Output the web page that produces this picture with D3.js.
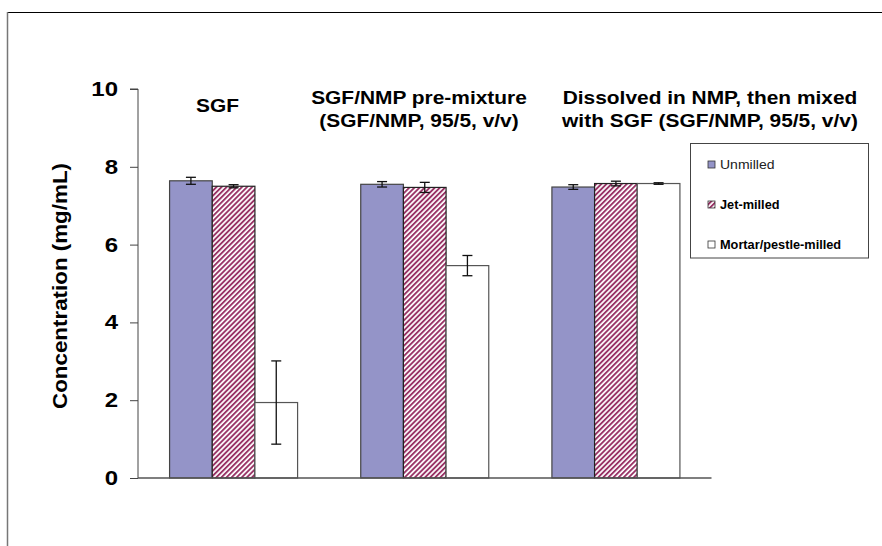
<!DOCTYPE html>
<html>
<head>
<meta charset="utf-8">
<script src="https://cdn.jsdelivr.net/npm/d3@7"></script>
<style>
  body { margin: 0; background: #fff; }
  text { font-family: "Liberation Sans", Arial, sans-serif; }
</style>
</head>
<body>
<svg id="chart" width="882" height="546"></svg>
<script>
// data
let groups = ["SGF", "SGF/NMP pre-mixture", "Dissolved in NMP"];
let groupTitles = [["SGF"], ["SGF/NMP pre-mixture", "(SGF/NMP, 95/5, v/v)"], ["Dissolved in NMP, then mixed", "with SGF (SGF/NMP, 95/5, v/v)"]];
let series = ["Unmilled", "Jet-milled", "Mortar/pestle-milled"];
let unmilled = [7.64, 7.55, 7.48];
let unmilledErr = [0.09, 0.07, 0.06];
let jetMilled = [7.50, 7.47, 7.57];
let jetMilledErr = [0.04, 0.13, 0.06];
let mortarMilled = [1.94, 5.46, 7.57];
let mortarMilledErr = [1.07, 0.26, 0.02];
let yTicks = [0, 2, 4, 6, 8, 10];

let values = [unmilled, jetMilled, mortarMilled];
let errors = [unmilledErr, jetMilledErr, mortarMilledErr];

let svg = d3.select("#chart");

// the original text is drawn a bit wide
function stretch(sel, k) {
    sel.each(function () {
        let w = this.getComputedTextLength();
        d3.select(this).attr("textLength", w * k).attr("lengthAdjust", "spacingAndGlyphs");
    });
}

// patterns
let defs = svg.append("defs");
let pat = defs.append("pattern")
    .attr("id", "hatch")
    .attr("patternUnits", "userSpaceOnUse")
    .attr("width", 3.6).attr("height", 3.6)
    .attr("patternTransform", "rotate(45)");
pat.append("rect").attr("width", 3.6).attr("height", 3.6).attr("fill", "#fff");
pat.append("rect").attr("width", 1.9).attr("height", 3.6).attr("fill", "#993366");

let fills = ["#9494c8", "url(#hatch)", "#ffffff"];
let strokes = ["#444", "#222", "#555"];

// outer frame
svg.append("line").attr("x1", 7).attr("x2", 882).attr("y1", 12.5).attr("y2", 12.5)
    .attr("stroke", "#000").attr("stroke-width", 1);
svg.append("line").attr("x1", 7.5).attr("x2", 7.5).attr("y1", 12).attr("y2", 546)
    .attr("stroke", "#777").attr("stroke-width", 1.5);

let x0 = d3.scaleBand().domain(groups).range([138, 711.5]);
let x1 = d3.scaleBand().domain(series).range([0, x0.bandwidth()]).paddingInner(0).paddingOuter(0.74);
let y = d3.scaleLinear().domain([0, 10]).range([478, 89]);

// bars
let g = svg.append("g");
groups.forEach(function (grp, gi) {
    series.forEach(function (s, si) {
        let v = values[si][gi];
        g.append("rect")
            .attr("x", x0(grp) + x1(s))
            .attr("y", y(v))
            .attr("width", x1.bandwidth())
            .attr("height", y(0) - y(v))
            .attr("fill", fills[si])
            .attr("stroke", strokes[si])
            .attr("stroke-width", 1.2);
    });
});

// error bars
groups.forEach(function (grp, gi) {
    series.forEach(function (s, si) {
        let v = values[si][gi], e = errors[si][gi];
        let cx = x0(grp) + x1(s) + x1.bandwidth() / 2;
        let eb = svg.append("g").attr("stroke", "#111").attr("stroke-width", 1.3);
        eb.append("line").attr("x1", cx).attr("x2", cx).attr("y1", y(v + e)).attr("y2", y(v - e));
        eb.append("line").attr("x1", cx - 5).attr("x2", cx + 5).attr("y1", y(v + e)).attr("y2", y(v + e));
        eb.append("line").attr("x1", cx - 5).attr("x2", cx + 5).attr("y1", y(v - e)).attr("y2", y(v - e));
    });
});

// y axis
let yAxis = svg.append("g")
    .attr("transform", "translate(138,0)")
    .call(d3.axisLeft(y).tickValues(yTicks).tickSize(8).tickPadding(12));
yAxis.select(".domain").attr("stroke", "#444").attr("d", "M-8," + y(10) + "H0V" + y(0));
yAxis.selectAll(".tick line").attr("stroke", "#444");
yAxis.selectAll("text")
    .attr("font-size", 20).attr("font-weight", "bold").attr("fill", "#000")
    .attr("font-family", "Liberation Sans, Arial, sans-serif");
stretch(yAxis.selectAll("text"), 1.2);

// x axis line
svg.append("line").attr("x1", 138).attr("x2", 711.5).attr("y1", y(0)).attr("y2", y(0))
    .attr("stroke", "#555").attr("stroke-width", 1.5);

// y axis title
let yTitle = svg.append("text")
    .attr("transform", "translate(67,286) rotate(-90)")
    .attr("text-anchor", "middle")
    .attr("font-size", 20).attr("font-weight", "bold")
    .text("Concentration (mg/mL)");
yTitle.attr("textLength", 246).attr("lengthAdjust", "spacingAndGlyphs");

// group titles
let titleX = [217.5, 419, 710];
groupTitles.forEach(function (lines, gi) {
    let ty = lines.length == 1 ? 112 : 104;
    lines.forEach(function (t, li) {
        let tt = svg.append("text")
            .attr("x", titleX[gi])
            .attr("y", ty + li * 23)
            .attr("text-anchor", "middle")
            .attr("font-size", 19).attr("font-weight", "bold")
            .text(t);
        stretch(tt, 1.1);
    });
});

// legend
let lg = svg.append("g");
lg.append("rect").attr("x", 690.5).attr("y", 143.5).attr("width", 178).attr("height", 114.5)
    .attr("fill", "#fff").attr("stroke", "#444").attr("stroke-width", 1);
series.forEach(function (s, si) {
    let ly = 164.5 + si * 40;
    lg.append("rect").attr("x", 708).attr("y", ly - 3.5).attr("width", 7).attr("height", 7)
        .attr("fill", fills[si]).attr("stroke", "#333").attr("stroke-width", 0.8);
    let lt = lg.append("text").attr("x", 720).attr("y", ly + 4.5)
        .attr("font-size", 12.5).attr("font-weight", si == 0 ? "normal" : "bold")
        .attr("fill", si == 0 ? "#222" : "#000")
        .text(s);
    stretch(lt, si == 0 ? 1.12 : 1.02);
});
</script>
</body>
</html>
